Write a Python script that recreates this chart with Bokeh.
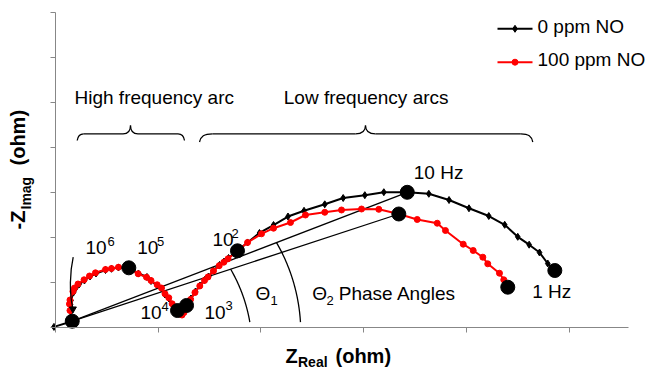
import numpy as np
from bokeh.plotting import figure
from bokeh.models import Range1d, FixedTicker, Label
from bokeh.embed import file_html
from bokeh.resources import INLINE

# ---------------- data (axis units: one major tick interval = 1) ----------------
series_names = ["0 ppm NO", "100 ppm NO"]

z_real_0ppm = [-0.015, 0.163, 0.151, 0.146, 0.151, 0.175, 0.195, 0.229, 0.282, 0.336,
               0.394, 0.487, 0.545, 0.613, 0.714, 0.808, 0.891, 0.930, 0.993, 1.032,
               1.066, 1.105, 1.139, 1.164, 1.188, 1.217, 1.241, 1.276, 1.319, 1.363,
               1.407, 1.451, 1.490, 1.538, 1.597, 1.641, 1.685, 1.772, 1.870, 1.986,
               2.123, 2.264, 2.420, 2.622, 2.801, 3.012, 3.197, 3.425, 3.635, 3.832,
               4.026, 4.219, 4.374, 4.501, 4.612, 4.713, 4.793, 4.862]
z_imag_0ppm = [0.020, 0.147, 0.362, 0.518, 0.607, 0.784, 0.873, 0.962, 1.051, 1.140,
               1.207, 1.284, 1.311, 1.340, 1.333, 1.207, 1.129, 1.040, 0.940, 0.873,
               0.740, 0.651, 0.518, 0.440, 0.384, 0.307, 0.318, 0.496, 0.651, 0.807,
               0.940, 1.062, 1.140, 1.273, 1.396, 1.473, 1.551, 1.711, 1.896, 2.107,
               2.284, 2.473, 2.600, 2.744, 2.884, 2.947, 3.013, 3.011, 2.978, 2.840,
               2.656, 2.484, 2.289, 2.022, 1.847, 1.673, 1.429, 1.273]

z_real_100ppm = [0.163, 0.141, 0.136, 0.141, 0.170, 0.185, 0.219, 0.278, 0.331, 0.389,
                 0.487, 0.545, 0.613, 0.714, 0.805, 0.886, 0.930, 0.990, 1.032, 1.066,
                 1.103, 1.136, 1.159, 1.188, 1.212, 1.232, 1.251, 1.276, 1.315, 1.358,
                 1.405, 1.451, 1.485, 1.538, 1.594, 1.639, 1.680, 1.772, 1.870, 2.006,
                 2.123, 2.288, 2.434, 2.622, 2.785, 2.980, 3.148, 3.343, 3.522, 3.717,
                 3.797, 3.970, 4.067, 4.161, 4.209, 4.323, 4.365, 4.404]
z_imag_100ppm = [0.147, 0.384, 0.529, 0.618, 0.807, 0.884, 0.973, 1.067, 1.151, 1.222,
                 1.296, 1.318, 1.347, 1.333, 1.200, 1.124, 1.051, 0.956, 0.884, 0.756,
                 0.667, 0.533, 0.451, 0.384, 0.307, 0.284, 0.340, 0.496, 0.629, 0.784,
                 0.929, 1.051, 1.129, 1.262, 1.380, 1.458, 1.533, 1.711, 1.896, 2.089,
                 2.213, 2.340, 2.507, 2.567, 2.618, 2.640, 2.633, 2.529, 2.407, 2.324,
                 2.162, 1.858, 1.718, 1.569, 1.422, 1.213, 1.067, 0.902]

# indices of the highlighted frequency points (start, 1e5, 1e4, 1e3, 1e2, 10 Hz, 1 Hz)
big_idx_0ppm = [1, 14, 24, 27, 37, 47, 57]
big_idx_100ppm = [47, 57]
vertex_idx = 1
idx_10hz = 47

x_ticks = [0, 1, 2, 3, 4, 5]
y_ticks = [0, 1, 2, 3, 4, 5, 6, 7]
X_MAX = 5.579
Y_MAX = 7

# ---------------- layout helpers (picture pixel -> data units) ----------------
W, H = 646, 369
FONT = "Liberation Sans"
BASE_SHIFT = 0.40   # empirical: rendered alphabetic baseline sits this many em below the anchor
def DX(px):
    return (px - 55.0) / 102.7
def DY(py):
    return (327.3 - py) / 45.0

p = figure(width=W, height=H, output_backend="svg", toolbar_location=None,
           x_range=Range1d(DX(0), DX(W)), y_range=Range1d(DY(H), DY(0)),
           min_border=0, min_border_left=0, min_border_right=0,
           min_border_top=0, min_border_bottom=0)
p.outline_line_color = None
p.grid.visible = False
p.background_fill_color = "white"
p.border_fill_color = "white"
p.xaxis.ticker = FixedTicker(ticks=x_ticks)
p.yaxis.ticker = FixedTicker(ticks=y_ticks)
p.xaxis.fixed_location = 0
p.yaxis.fixed_location = 0
p.xaxis.bounds = (0, X_MAX)
p.yaxis.bounds = (0, Y_MAX)
for ax in (p.xaxis, p.yaxis):
    ax.axis_line_color = "#878787"
    ax.axis_line_width = 1
    ax.major_tick_line_color = "#878787"
    ax.major_tick_out = 5
    ax.major_tick_in = 0
    ax.minor_tick_line_color = None
    ax.major_label_text_font_size = "0px"
    ax.major_label_standoff = 0
    ax.axis_label = None

BLACK = "#000000"
RED = "#ff0000"
LW_ANN = 1.3

# ---------------- phase-angle lines from the common vertex ----------------
vx, vy = z_real_0ppm[vertex_idx], z_imag_0ppm[vertex_idx]
p.segment(x0=[vx, vx], y0=[vy, vy],
          x1=[z_real_0ppm[idx_10hz], z_real_100ppm[idx_10hz]],
          y1=[z_imag_0ppm[idx_10hz], z_imag_100ppm[idx_10hz]],
          line_color=BLACK, line_width=LW_ANN)

# angle arcs (annotation geometry in reference pixels)
for cx, cy, r, a0, a1 in [(92.8, 348.4, 158.8, 9.7, 30.2), (119.1, 332.7, 181.2, 3.5, 30.0)]:
    t = np.radians(np.linspace(a0, a1, 50))
    p.line([DX(cx + r * np.cos(v)) for v in t], [DY(cy - r * np.sin(v)) for v in t],
           line_color=BLACK, line_width=LW_ANN)

# ---------------- series ----------------
p.line(z_real_0ppm, z_imag_0ppm, line_color=BLACK, line_width=2, line_join="round")
p.scatter(z_real_0ppm, z_imag_0ppm, marker="diamond", size=7, color=BLACK)
p.line(z_real_100ppm, z_imag_100ppm, line_color=RED, line_width=2, line_join="round")
p.scatter(z_real_100ppm, z_imag_100ppm, marker="circle", size=6, color=RED)

p.scatter([z_real_0ppm[i] for i in big_idx_0ppm], [z_imag_0ppm[i] for i in big_idx_0ppm],
          marker="circle", size=14, color=BLACK)
p.scatter([z_real_100ppm[i] for i in big_idx_100ppm], [z_imag_100ppm[i] for i in big_idx_100ppm],
          marker="circle", size=14, color=BLACK)

# ---------------- braces ----------------
def brace(xl, xr, xm, yb, yh, yt, hl, hr, tip):
    bx0, by0, bx1, by1, c0x, c0y, c1x, c1y = [], [], [], [], [], [], [], []
    def bez(P0, C0, C1, P1):
        bx0.append(DX(P0[0])); by0.append(DY(P0[1]))
        c0x.append(DX(C0[0])); c0y.append(DY(C0[1]))
        c1x.append(DX(C1[0])); c1y.append(DY(C1[1]))
        bx1.append(DX(P1[0])); by1.append(DY(P1[1]))
    dyh = yb - yh
    bez((xl, yb), (xl + hl * 0.1, yh + dyh * 0.3), (xl + hl * 0.35, yh), (xl + hl, yh))
    bez((xr, yb), (xr - hr * 0.1, yh + dyh * 0.3), (xr - hr * 0.35, yh), (xr - hr, yh))
    dt = yh - yt
    bez((xm - tip, yh), (xm - tip * 0.35, yh), (xm, yh - dt * 0.3), (xm, yt))
    bez((xm + tip, yh), (xm + tip * 0.35, yh), (xm, yh - dt * 0.3), (xm, yt))
    p.bezier(x0=bx0, y0=by0, x1=bx1, y1=by1, cx0=c0x, cy0=c0y, cx1=c1x, cy1=c1y,
             line_color=BLACK, line_width=LW_ANN)
    p.segment(x0=[DX(xl + hl), DX(xm + tip)], y0=[DY(yh), DY(yh)],
              x1=[DX(xm - tip), DX(xr - hr)], y1=[DY(yh), DY(yh)],
              line_color=BLACK, line_width=LW_ANN)

brace(76.7, 184.0, 130.0, 140.0, 133.3, 125.0, 6.5, 6.5, 7.5)
brace(199.0, 532.3, 365.0, 141.5, 133.3, 125.0, 13.0, 12.0, 10.0)

# ---------------- curved arrow (10^6) ----------------
p.bezier(x0=[DX(72.7)], y0=[DY(256.7)], x1=[DX(72.2)], y1=[DY(307)],
         cx0=[DX(69.3)], cy0=[DY(272)], cx1=[DX(68.8)], cy1=[DY(292)],
         line_color=BLACK, line_width=LW_ANN)
p.scatter([DX(72.4)], [DY(308.5)], marker="inverted_triangle", size=7, color=BLACK)

# ---------------- texts ----------------
def add_text(txt, px, py, size, bold=False, vertical=False):
    # (px, py): start of the text on its alphabetic baseline, in picture pixels
    if vertical:
        ax_, ay_ = px - BASE_SHIFT * size, py
        ang = np.pi / 2
    else:
        ax_, ay_ = px, py - BASE_SHIFT * size
        ang = 0.0
    p.add_layout(Label(x=DX(ax_), y=DY(ay_), text=txt, text_font=FONT,
                       text_font_size=f"{size}px",
                       text_font_style="bold" if bold else "normal",
                       angle=ang, text_align="left", text_baseline="alphabetic",
                       text_color=BLACK))

# ---------------- legend ----------------
for name, col, mk, ms, ly, ty in [(series_names[0], BLACK, "diamond", 7, 28.3, 33.3),
                                  (series_names[1], RED, "circle", 6, 61.7, 66.7)]:
    p.line([DX(497), DX(532)], [DY(ly), DY(ly)], line_color=col, line_width=2)
    p.scatter([DX(514.5)], [DY(ly)], marker=mk, size=ms, color=col)
    add_text(name, 537, ty, 19)

S = 19
SS = 13
for txt, px, py, sz in [
        ("High frequency arc", 74, 105, S),
        ("Low frequency arcs", 283.3, 105, S),
        ("10 Hz", 413.3, 180, S),
        ("1 Hz", 531.7, 298.3, S),
        ("Θ", 255, 300.5, S), ("1", 270, 305.5, SS),
        ("Θ", 311.7, 300.5, S), ("2", 326, 305.5, SS),
        ("Phase Angles", 338.3, 300.5, S),
        ("10", 85, 255, S), ("6", 107, 246.5, SS),
        ("10", 136.7, 255, S), ("5", 156.5, 246.5, SS),
        ("10", 212, 246.7, S), ("2", 231, 238.5, SS),
        ("10", 140, 320, S), ("4", 161, 311.5, SS),
        ("10", 204, 319.3, S), ("3", 225, 310.5, SS)]:
    add_text(txt, px, py, sz)

# axis titles
add_text("Z", 285, 363, 20, bold=True)
add_text("Real", 297.5, 367.5, 14, bold=True)
add_text("(ohm)", 335, 363, 20, bold=True)

add_text("-Z", 25.5, 229, 20, bold=True, vertical=True)
add_text("Imag", 31.5, 209, 14, bold=True, vertical=True)
add_text("(ohm)", 25.5, 165, 20, bold=True, vertical=True)

open("out.html", "w").write(file_html(p, INLINE))
